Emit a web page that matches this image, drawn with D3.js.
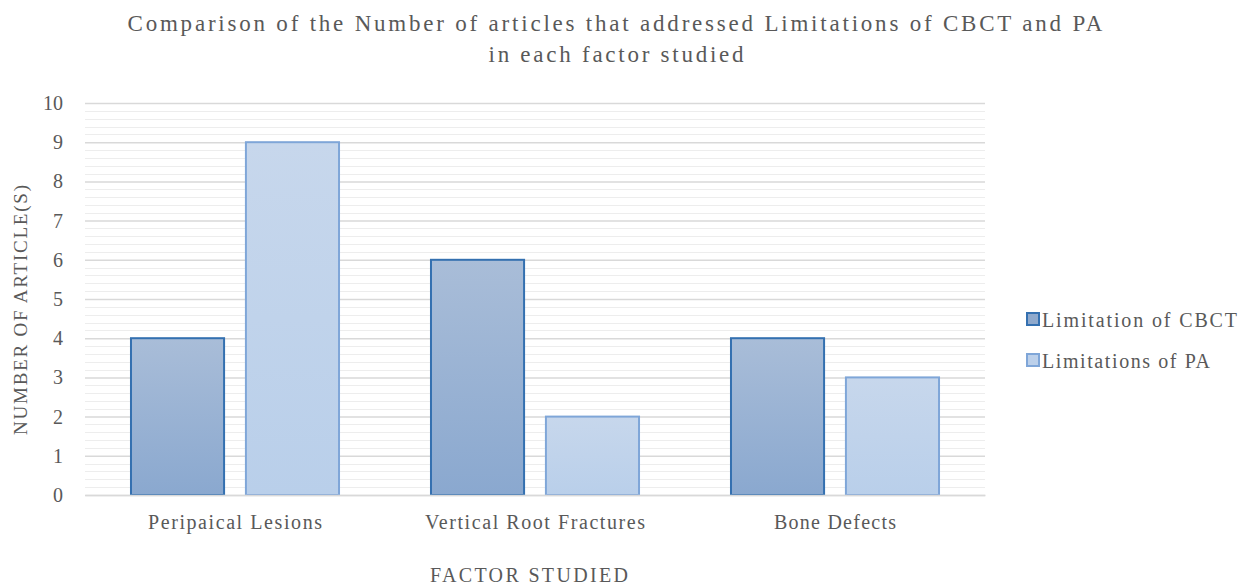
<!DOCTYPE html>
<html><head><meta charset="utf-8">
<script src="https://cdn.jsdelivr.net/npm/d3@7"></script>
<style>body{margin:0;background:#fff;} svg text{font-family:"Liberation Serif","Times New Roman",Tinos,"DejaVu Serif",serif !important;}</style>
</head><body>
<svg id="c" width="1246" height="585"></svg>
<script>
const categories = ["Peripaical Lesions", "Vertical Root Fractures", "Bone Defects"];
const seriesNames = ["Limitation of CBCT", "Limitations of PA"];
const cbctValues = [4, 6, 4];
const paValues = [9, 2, 3];
const yTicks = [0,1,2,3,4,5,6,7,8,9,10];

const TXT = "#595959";
const svg = d3.select("#c");
const m = {l:85, r:261, t:103, b:90};
const W = 1246, H = 585;
const x0 = d3.scaleBand().domain(categories).range([m.l, W-m.r]).paddingInner(0).paddingOuter(0);
const x1 = d3.scaleBand().domain(seriesNames).range([0, x0.bandwidth()]).paddingInner(0.19).paddingOuter(0.4);
const y = d3.scaleLinear().domain([0,10]).range([H-m.b, m.t]);

const defs = svg.append("defs");
const g1 = defs.append("linearGradient").attr("id","gC").attr("x1",0).attr("y1",0).attr("x2",0).attr("y2",1);
g1.append("stop").attr("offset","0%").attr("stop-color","#a9bdd8");
g1.append("stop").attr("offset","100%").attr("stop-color","#8aa8cf");
const g2 = defs.append("linearGradient").attr("id","gP").attr("x1",0).attr("y1",0).attr("x2",0).attr("y2",1);
g2.append("stop").attr("offset","0%").attr("stop-color","#c7d7ec");
g2.append("stop").attr("offset","100%").attr("stop-color","#b9cfea");
const fills = ["url(#gC)","url(#gP)"];
const strokes = ["#3470b0","#7fa6d8"];
const legendFills = ["#8fa9cc","#bcd0ea"];

// minor grid
const minor = d3.range(0, 10.0001, 0.2).filter(v => Math.abs(v - Math.round(v)) > 1e-6);
svg.append("g").selectAll("line").data(minor).join("line")
  .attr("x1", m.l).attr("x2", W-m.r).attr("y1", d=>Math.round(y(d))+0.5).attr("y2", d=>Math.round(y(d))+0.5)
  .attr("stroke","#ededed").attr("stroke-width",1);
// y axis with major grid
const yAxis = d3.axisLeft(y).tickValues(yTicks).tickSize(-(W-m.l-m.r)).tickPadding(22).tickFormat(d3.format("d"));
const ya = svg.append("g").attr("transform",`translate(${m.l},0)`).call(yAxis);
ya.select(".domain").remove();
ya.selectAll(".tick line").attr("stroke","#d9d9d9").attr("stroke-width",1.5);
ya.selectAll(".tick text").attr("font-size",20).attr("fill",TXT);

// bars
const data = categories.map((c,i)=>({c, vals:[cbctValues[i], paValues[i]]}));
const grp = svg.append("g").selectAll("g").data(data).join("g").attr("transform",d=>`translate(${x0(d.c)},0)`);
grp.selectAll("rect").data(d=>d.vals.map((v,j)=>({s:seriesNames[j], v, j}))).join("rect")
  .attr("x", d=>x1(d.s)).attr("width", x1.bandwidth())
  .attr("y", d=>y(d.v)).attr("height", d=>y(0)-y(d.v))
  .attr("fill", d=>fills[d.j]).attr("stroke", d=>strokes[d.j]).attr("stroke-width",2);

// x axis
const xLabelLen = {"Peripaical Lesions":174, "Vertical Root Fractures":220, "Bone Defects":122};
const xAxis = d3.axisBottom(x0).tickSize(0).tickPadding(20);
const xa = svg.append("g").attr("transform",`translate(0,${H-m.b})`).call(xAxis);
xa.select(".domain").attr("stroke","#d9d9d9").attr("stroke-width",1.5);
xa.selectAll(".tick text").attr("font-size",20).attr("fill",TXT)
  .attr("textLength", d=>xLabelLen[d]).attr("lengthAdjust","spacing");

// titles
svg.append("text").attr("x",615).attr("y",31).attr("text-anchor","middle").attr("font-size",23).attr("fill",TXT)
  .attr("textLength",975).attr("lengthAdjust","spacing")
  .text("Comparison of the Number of articles that addressed Limitations of CBCT and PA");
svg.append("text").attr("x",616).attr("y",62).attr("text-anchor","middle").attr("font-size",23).attr("fill",TXT)
  .attr("textLength",255).attr("lengthAdjust","spacing")
  .text("in each factor studied");
svg.append("text").attr("transform","translate(27,310) rotate(-90)").attr("text-anchor","middle").attr("font-size",19).attr("fill",TXT)
  .attr("textLength",250).attr("lengthAdjust","spacing")
  .text("NUMBER OF ARTICLE(S)");
svg.append("text").attr("x",529).attr("y",582).attr("text-anchor","middle").attr("font-size",20).attr("fill",TXT)
  .attr("textLength",198).attr("lengthAdjust","spacing")
  .text("FACTOR STUDIED");

// legend
const legLen = [195, 168];
const lg = svg.append("g").selectAll("g").data(seriesNames).join("g")
  .attr("transform",(d,i)=>`translate(1027,${313+i*41})`);
lg.append("rect").attr("width",12).attr("height",12).attr("fill",(d,i)=>legendFills[i]).attr("stroke",(d,i)=>strokes[i]).attr("stroke-width",2);
lg.append("text").attr("x",15).attr("y",14).attr("font-size",20).attr("fill",TXT)
  .attr("textLength",(d,i)=>legLen[i]).attr("lengthAdjust","spacing").text(d=>d);
</script>
</body></html>
